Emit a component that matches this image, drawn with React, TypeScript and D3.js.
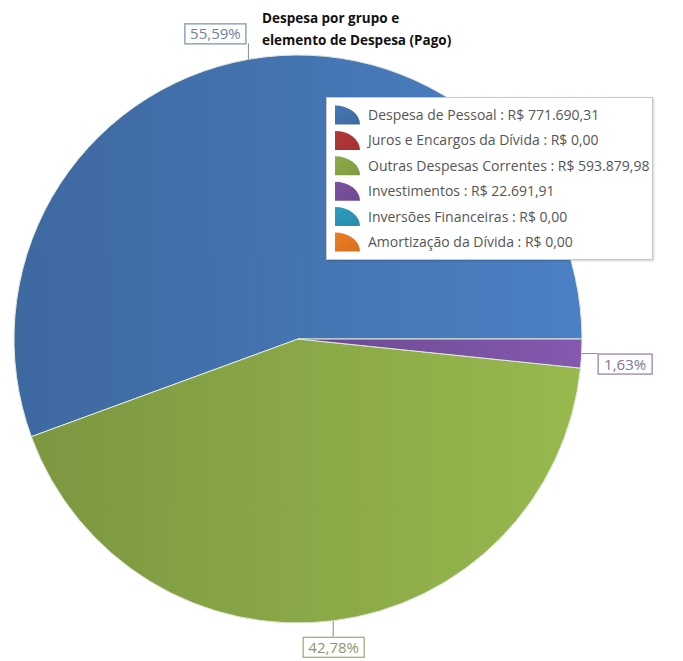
import React from 'react';
import * as d3 from 'd3';

const categories = [
  'Despesa de Pessoal',
  'Juros e Encargos da Dívida',
  'Outras Despesas Correntes',
  'Investimentos',
  'Inversões Financeiras',
  'Amortização da Dívida',
];
const values = [771690.31, 0, 593879.98, 22691.91, 0, 0];
const valueLabels = ['R$ 771.690,31', 'R$ 0,00', 'R$ 593.879,98', 'R$ 22.691,91', 'R$ 0,00', 'R$ 0,00'];
const colors = ['#4676b5', '#b53838', '#8cab48', '#7a52a3', '#2e9cbf', '#ef7d22'];
const titleLines = ['Despesa por grupo e', 'elemento de Despesa (Pago)'];

const W = 683;
const H = 661;
const cx = 298;
const cy = 339;
const R = 284;

export default function App() {
  const total = d3.sum(values);
  const pie = d3
    .pie<number>()
    .sort(null)
    .startAngle(Math.PI / 2)
    .endAngle(Math.PI / 2 - 2 * Math.PI)(values);
  const arc = d3.arc<d3.PieArcDatum<number>>().innerRadius(0).outerRadius(R);

  const fmtPct = (v: number) => ((v / total) * 100).toFixed(2).replace('.', ',') + '%';

  const labels = pie
    .filter((p) => p.value > 0)
    .map((p) => {
      const mid = (p.startAngle + p.endAngle) / 2;
      const ex = cx + R * Math.sin(mid);
      const ey = cy - R * Math.cos(mid);
      const dx = Math.sin(mid);
      const dy = -Math.cos(mid);
      const L = 16;
      const bh = 20;
      const bw = p.value / total < 0.1 ? 54 : 61;
      let x2 = ex, y2 = ey, bx = 0, by = 0;
      if (Math.abs(dy) > Math.abs(dx)) {
        if (dy < 0) {
          y2 = ey - L;
          bx = x2 - bw - 3;
          by = y2 - bh;
        } else {
          y2 = ey + L;
          bx = x2 - bw / 2;
          by = y2;
        }
      } else {
        x2 = ex + (dx > 0 ? L : -L);
        bx = dx > 0 ? x2 : x2 - bw;
        by = y2;
      }
      return { p, ex, ey, x2, y2, bx, by, bw, bh, text: fmtPct(p.value) };
    });

  const legX = 326;
  const legY = 97;
  const legW = 326;
  const legH = 162;
  const rowY0 = 115;
  const rowStep = 25.4;

  return (
    <svg
      width={W}
      height={H}
      style={{ position: 'absolute', left: 0, top: 0, background: '#fff' }}
      fontFamily="'Open Sans', sans-serif"
    >
      <defs>
        {colors.map((c, i) => {
          const base = d3.color(c)!;
          return (
            <linearGradient key={i} id={`g${i}`} x1="0" y1="0" x2="1" y2="0">
              <stop offset="0%" stopColor={base.darker(0.35).formatHex()} />
              <stop offset="100%" stopColor={base.brighter(0.22).formatHex()} />
            </linearGradient>
          );
        })}
        {colors.map((c, i) => {
          const base = d3.color(c)!;
          return (
            <linearGradient key={'l' + i} id={`lg${i}`} x1="0" y1="0" x2="1" y2="1">
              <stop offset="0%" stopColor={base.formatHex()} />
              <stop offset="100%" stopColor={base.darker(0.3).formatHex()} />
            </linearGradient>
          );
        })}
        <filter id="shadow" x="-5%" y="-5%" width="110%" height="115%">
          <feDropShadow dx="1" dy="1" stdDeviation="1.2" floodColor="#000" floodOpacity="0.18" />
        </filter>
      </defs>

      <g transform={`translate(${cx},${cy})`}>
        {pie
          .filter((p) => p.value > 0)
          .map((p) => (
            <path
              key={p.index}
              d={arc(p) || ''}
              fill={`url(#g${p.index})`}
              stroke="#dfe8d8"
              strokeWidth={1}
              strokeLinejoin="round"
            />
          ))}
      </g>

      {labels.map((l) => {
        const c = d3.color(colors[l.p.index])!;
        const border = d3.interpolateRgb(c.formatHex(), '#b0b0b0')(0.55);
        const txt = d3.interpolateRgb(c.formatHex(), '#8a8a8a')(0.6);
        return (
          <g key={l.p.index}>
            <line x1={l.ex} y1={l.ey} x2={l.x2} y2={l.y2} stroke="#8c8c8c" strokeWidth={1} />
            <rect
              x={l.bx + 0.5}
              y={l.by + 0.5}
              width={l.bw}
              height={l.bh}
              fill="#fff"
              stroke={border}
              strokeWidth={1.3}
            />
            <text
              x={l.bx + l.bw / 2 + 0.5}
              y={l.by + l.bh / 2 + 6}
              textAnchor="middle"
              fontSize={15}
              fill={txt}
            >
              {l.text}
            </text>
          </g>
        );
      })}

      {titleLines.map((t, i) => (
        <text key={i} x={262} y={23 + i * 22} fontSize={13.5} fontWeight="bold" fill="#111">
          {t}
        </text>
      ))}

      <g>
        <rect
          x={legX + 0.5}
          y={legY + 0.5}
          width={legW}
          height={legH}
          fill="#fff"
          stroke="#c8c8c8"
          strokeWidth={1}
          filter="url(#shadow)"
        />
        {categories.map((c, i) => {
          const y = rowY0 + i * rowStep;
          const ix = 335;
          const iw = 25;
          const ih = 19;
          const iy = y - ih / 2;
          return (
            <g key={i}>
              <path
                d={`M${ix},${iy + ih} L${ix},${iy} A${iw},${ih} 0 0 1 ${ix + iw},${iy + ih} Z`}
                fill={`url(#lg${i})`}
              />
              <text x={368} y={y + 5} fontSize={14} fill="#555">
                {c} : {valueLabels[i]}
              </text>
            </g>
          );
        })}
      </g>
    </svg>
  );
}
